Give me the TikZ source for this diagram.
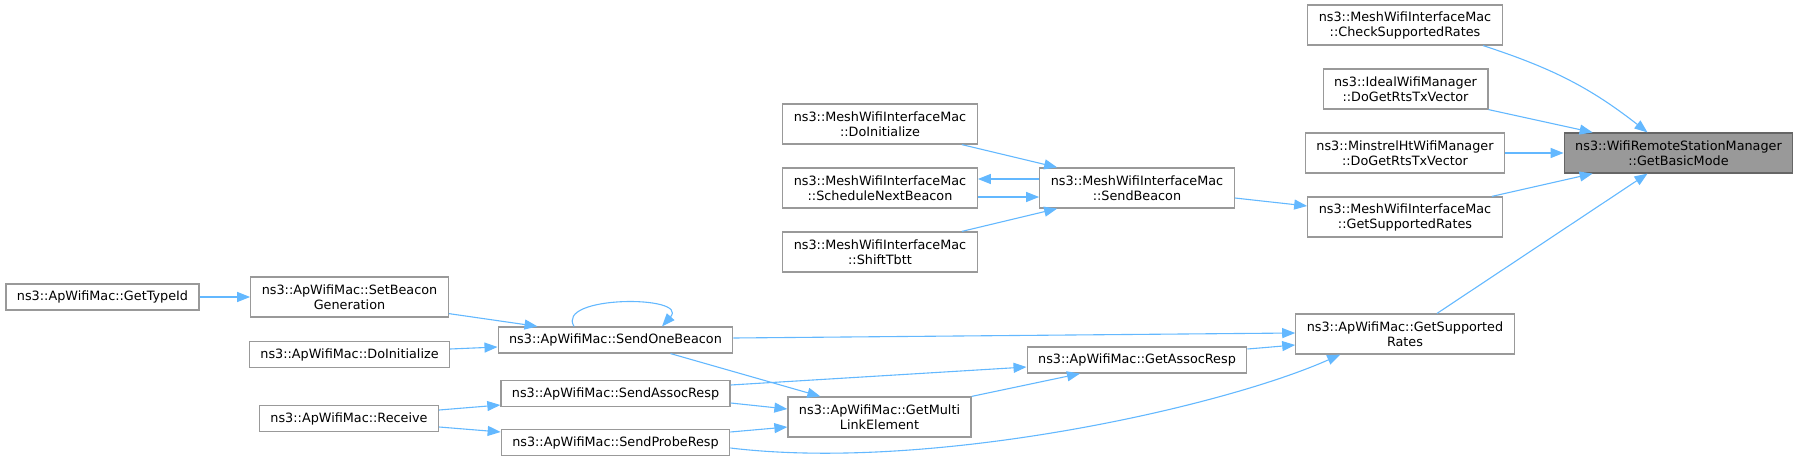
\documentclass[tikz,border=0pt]{standalone}
\usepackage{fontspec}
\setmainfont{DejaVu Sans}
\usetikzlibrary{arrows.meta}
\definecolor{callblue}{HTML}{63B8FF}

\begin{document}
\begin{tikzpicture}[x=1pt, y=-1pt,
  fn/.style={draw=black!40, fill=white, line width=1.2pt, align=center,
    inner xsep=11pt, inner ysep=3pt, minimum height=26pt,
    font=\fontsize{12.8}{15}\selectfont},
  twoline/.style={minimum height=40pt},
  fnmain/.style={fill=black!40, draw=black!60},
  calls/.style={draw=callblue, line width=1.1pt, -{Triangle[length=13pt, width=10pt]}}]
  \useasboundingbox (0, 0) rectangle (1800, 460);
  \node[fn, twoline, fnmain] (basic) at (1678.5, 153) {ns3::WifiRemoteStationManager\\::GetBasicMode};
  \node[fn, twoline] (check) at (1405, 25) {ns3::MeshWifiInterfaceMac\\::CheckSupportedRates};
  \node[fn, twoline] (ideal) at (1405.5, 89) {ns3::IdealWifiManager\\::DoGetRtsTxVector};
  \node[fn, twoline] (minstrel) at (1405, 153) {ns3::MinstrelHtWifiManager\\::DoGetRtsTxVector};
  \node[fn, twoline] (meshrates) at (1405, 217) {ns3::MeshWifiInterfaceMac\\::GetSupportedRates};
  \node[fn, twoline] (aprates) at (1405, 334) {ns3::ApWifiMac::GetSupported\\Rates};
  \draw[calls] ([xshift=78pt]check.south) to[out=-18, in=142] ([xshift=-31pt]basic.north);
  \draw[calls] (ideal.south east) -- ([xshift=29pt]basic.north west);
  \draw[calls] (minstrel) -- (basic);
  \draw[calls] ([xshift=-11pt]meshrates.north east) -- ([xshift=29pt]basic.south west);
  \draw[calls] ([xshift=32pt]aprates.north) -- ([xshift=-31pt]basic.south);
  \node[fn, twoline] (sendbeacon) at (1137, 188) {ns3::MeshWifiInterfaceMac\\::SendBeacon};
  \node[fn] (assocresp) at (1137, 360) {ns3::ApWifiMac::GetAssocResp};
  \draw[calls] ([yshift=-10pt]sendbeacon.east) -- ([yshift=11pt]meshrates.west);
  \draw[calls] ([yshift=11pt]assocresp.east) -- ([yshift=-11pt]aprates.west);
  \node[fn, twoline] (meshinit) at (880, 124) {ns3::MeshWifiInterfaceMac\\::DoInitialize};
  \node[fn, twoline] (schedule) at (880, 188) {ns3::MeshWifiInterfaceMac\\::ScheduleNextBeacon};
  \node[fn, twoline] (shift) at (880, 252) {ns3::MeshWifiInterfaceMac\\::ShiftTbtt};
  \node[fn, twoline] (multilink) at (879.5, 417) {ns3::ApWifiMac::GetMulti\\LinkElement};
  \draw[calls] ([xshift=-16pt]meshinit.south east) -- ([xshift=18pt]sendbeacon.north west);
  \draw[calls] ([yshift=9pt]sendbeacon.west) -- ([yshift=9pt]schedule.east);
  \draw[calls] ([yshift=-9pt]schedule.east) -- ([yshift=-9pt]sendbeacon.west);
  \draw[calls] ([xshift=-16pt]shift.north east) -- ([xshift=18pt]sendbeacon.south west);
  \draw[calls] (multilink.north east) -- ([xshift=-57pt]assocresp.south);
  \node[fn] (onebeacon) at (615.5, 340) {ns3::ApWifiMac::SendOneBeacon};
  \node[fn] (sendassoc) at (615.5, 393.5) {ns3::ApWifiMac::SendAssocResp};
  \node[fn] (sendprobe) at (615.5, 442.5) {ns3::ApWifiMac::SendProbeResp};
  \draw[calls] ([yshift=2pt]onebeacon.east) -- ([yshift=1pt]aprates.west);
  \draw[calls] ([xshift=-41.5pt]onebeacon.north) .. controls (555, 295) and (690, 295) .. ([xshift=46.5pt]onebeacon.north);
  \draw[calls] ([xshift=55pt]onebeacon.south) -- ([xshift=33pt]multilink.north west);
  \draw[calls] ([yshift=8.5pt]sendassoc.east) -- ([yshift=-7pt]assocresp.west);
  \draw[calls] ([yshift=-9.5pt]sendassoc.east) -- ([yshift=8pt]multilink.west);
  \draw[calls] ([yshift=10.5pt]sendprobe.east) -- ([yshift=-10pt]multilink.west);
  \draw[calls] ([yshift=-5.5pt]sendprobe.east) .. controls (930, 472) and (1220, 408) .. ([xshift=45pt]aprates.south west);
  \node[fn, twoline] (setbeacon) at (349.5, 297) {ns3::ApWifiMac::SetBeacon\\Generation};
  \node[fn] (apinit) at (349.5, 354.5) {ns3::ApWifiMac::DoInitialize};
  \node[fn] (receive) at (349, 418.5) {ns3::ApWifiMac::Receive};
  \draw[calls] ([yshift=4pt]setbeacon.south east) -- ([xshift=40pt]onebeacon.north west);
  \draw[calls] ([yshift=5.5pt]apinit.east) -- ([yshift=-7pt]onebeacon.west);
  \draw[calls] ([yshift=8.5pt]receive.east) -- ([yshift=-11.5pt]sendassoc.west);
  \draw[calls] ([yshift=-8.5pt]receive.east) -- ([yshift=10.5pt]sendprobe.west);
  \node[fn] (typeid) at (102.5, 297) {ns3::ApWifiMac::GetTypeId};
  \draw[calls] (typeid) -- (setbeacon);
\end{tikzpicture}
\end{document}
